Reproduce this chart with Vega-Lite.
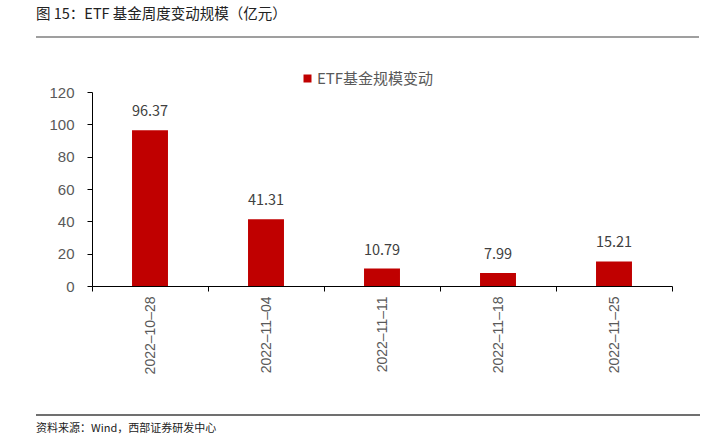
{
  "$schema": "https://vega.github.io/schema/vega-lite/v6.json",
  "padding": {"left": 35, "top": 6, "right": 0, "bottom": 0},
  "autosize": {"type": "pad"},
  "spacing": 40,
  "config": {"view": {"stroke": null}, "font": "Liberation Sans"},
  "vconcat": [
    {
      "width": 607,
      "height": 8,
      "title": {"text": "图 15：ETF 基金周度变动规模（亿元）", "anchor": "start", "frame": "group", "dx": -56, "font": "Noto Sans CJK SC", "fontSize": 14.5, "fontWeight": "normal", "color": "#222222", "offset": 14},
      "data": {"values": [{"a": -56, "b": 607}]},
      "mark": {"type": "rule", "color": "#7f7f7f", "strokeWidth": 1.5},
      "encoding": {
        "x": {"field": "a", "type": "quantitative", "scale": {"domain": [0, 607], "nice": false, "zero": false}, "axis": null},
        "x2": {"field": "b"},
        "y": {"datum": 1, "type": "quantitative", "scale": {"domain": [0, 1]}, "axis": null}
      }
    },
    {
      "width": 580,
      "height": 194,
      "data": {"values": [
        {"date": "2022-10-28", "value": 96.37},
        {"date": "2022-11-04", "value": 41.31},
        {"date": "2022-11-11", "value": 10.79},
        {"date": "2022-11-18", "value": 7.99},
        {"date": "2022-11-25", "value": 15.21}
      ]},
      "encoding": {
        "x": {"field": "date", "type": "ordinal", "sort": null, "scale": {"paddingInner": 0, "paddingOuter": 0},
          "axis": {"title": null, "labelAngle": -90, "labelFontSize": 14, "labelColor": "#595959", "labelPadding": 5, "labelExpr": "replace(datum.label, /-/g, '–')", "tickBand": "extent", "tickSize": 5, "tickColor": "#000000", "domainColor": "#000000", "ticks": true, "grid": false}},
        "y": {"field": "value", "type": "quantitative", "scale": {"domain": [0, 120]},
          "axis": {"title": null, "values": [0, 20, 40, 60, 80, 100, 120], "labelFontSize": 15, "labelColor": "#595959", "labelPadding": 13, "tickSize": 5, "tickColor": "#000000", "domainColor": "#000000", "grid": false, "minExtent": 56}}
      },
      "layer": [
        {
          "mark": {"type": "bar", "width": {"band": 0.31}},
          "encoding": {
            "color": {"datum": "ETF基金规模变动", "type": "nominal", "scale": {"range": ["#C00000"]},
              "legend": {"title": null, "orient": "none", "legendX": 208, "legendY": 34, "symbolType": "square", "symbolSize": 64, "symbolStrokeWidth": 0, "labelFontSize": 15, "labelColor": "#595959", "labelFont": "Noto Sans CJK SC", "labelOffset": 2}}
          }
        },
        {
          "mark": {"type": "text", "baseline": "bottom", "dy": -11, "fontSize": 14.5, "color": "#404040", "font": "Noto Sans CJK SC"},
          "encoding": {"text": {"field": "value", "type": "quantitative", "format": ".2f"}}
        }
      ]
    },
    {
      "width": 608,
      "height": 1,
      "title": {"text": "资料来源：Wind，西部证券研发中心", "orient": "bottom", "anchor": "start", "frame": "group", "dx": -56, "font": "Noto Sans CJK SC", "fontSize": 11, "fontWeight": "normal", "color": "#222222", "offset": 7},
      "data": {"values": [{"a": -56, "b": 608}]},
      "mark": {"type": "rule", "color": "#404040", "strokeWidth": 1.5},
      "encoding": {
        "x": {"field": "a", "type": "quantitative", "scale": {"domain": [0, 608], "nice": false, "zero": false}, "axis": null},
        "x2": {"field": "b"},
        "y": {"datum": 1, "type": "quantitative", "scale": {"domain": [0, 1]}, "axis": null}
      }
    }
  ]
}
